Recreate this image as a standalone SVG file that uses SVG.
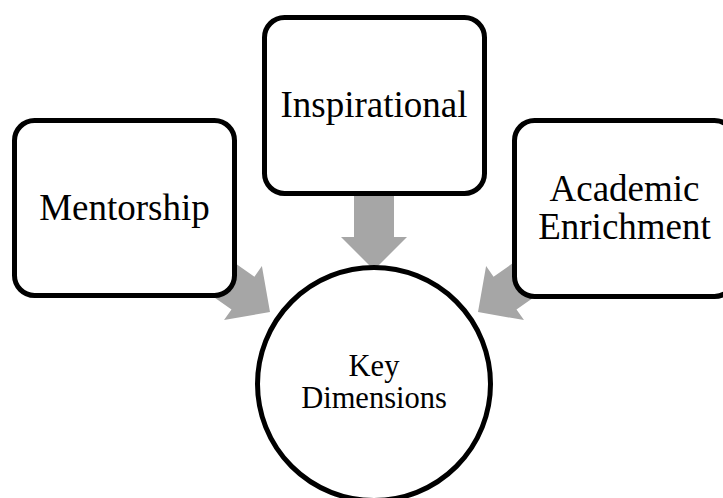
<svg xmlns="http://www.w3.org/2000/svg" width="723" height="498" viewBox="0 0 723 498">
<defs>
<style>
.box{fill:#fff;stroke:#000;stroke-width:5}
.arr{fill:#A6A6A6;stroke:none}
.t{font-family:"Liberation Serif","Times New Roman",serif;fill:#000;text-anchor:middle}
.big{font-size:37px}
.small{font-size:30.5px}
</style>
<path id="arrow" d="M -80 -20 L -33 -20 L -33 -33 L 0 0 L -33 33 L -33 20 L -80 20 Z"/>
</defs>
<rect width="723" height="498" fill="#fff"/>
<g id="connectors">
<use href="#arrow" class="arr" transform="translate(270,312) rotate(35)"/>
<use href="#arrow" class="arr" transform="translate(374,270) rotate(90)"/>
<use href="#arrow" class="arr" transform="translate(478,312) rotate(145)"/>
</g>
<g id="mentorship">
<rect class="box" x="14.5" y="120.5" width="220" height="175" rx="20"/>
<text class="t big" x="124.5" y="220">Mentorship</text>
</g>
<g id="inspirational">
<rect class="box" x="264.5" y="17.5" width="220" height="176" rx="20"/>
<text class="t big" x="374" y="117">Inspirational</text>
</g>
<g id="academic">
<rect class="box" x="514.5" y="120.5" width="220" height="176" rx="20"/>
<text class="t big" x="624.5" y="201">Academic</text>
<text class="t big" x="624.5" y="239">Enrichment</text>
</g>
<g id="key">
<circle class="box" cx="374" cy="384" r="116.5"/>
<text class="t small" x="374" y="376">Key</text>
<text class="t small" x="374" y="408">Dimensions</text>
</g>
</svg>
